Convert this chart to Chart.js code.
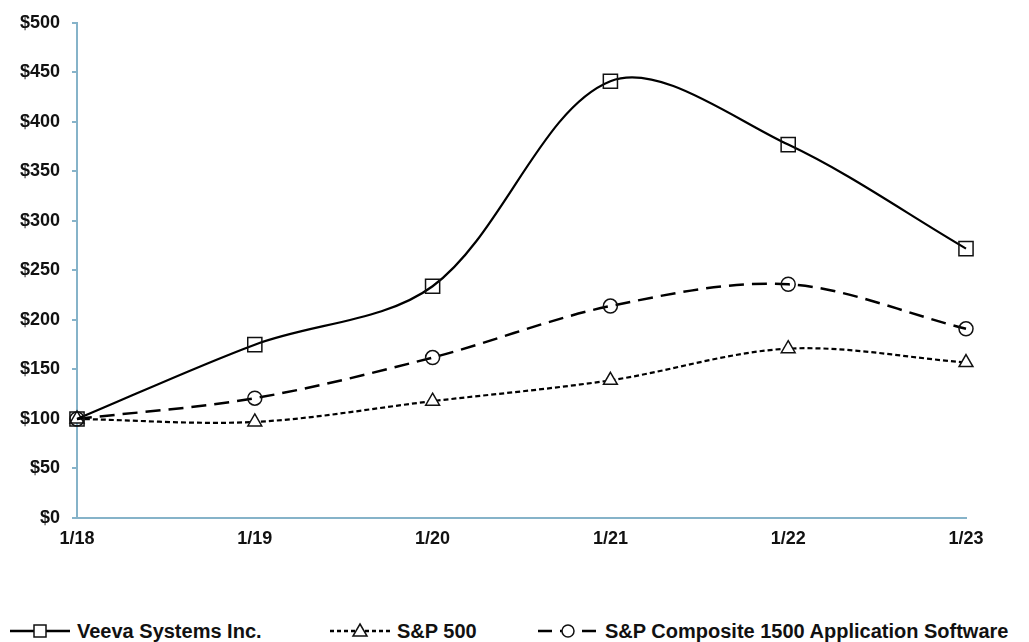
<!DOCTYPE html>
<html>
<head>
<meta charset="utf-8">
<script src="https://cdn.jsdelivr.net/npm/chart.js@4"></script>
<style>
  body { margin: 0; background: #fff; font-family: "Liberation Sans", Arial, sans-serif; }
  #wrap { position: relative; width: 1029px; height: 642px; }
  #chart { position: absolute; left: 0; top: 0; }
  .legend-item { position: absolute; top: 618px; display: flex; align-items: center; font-weight: bold; font-size: 20px; color: #111; white-space: nowrap; }
  .legend-item svg { margin-right: 7px; }
</style>
</head>
<body>
<div id="wrap">
  <canvas id="chart" width="1029" height="560"></canvas>
  <div id="legend"></div>
</div>
<script>
// Data
const periods = ['1/18', '1/19', '1/20', '1/21', '1/22', '1/23'];
const veeva = [100, 175, 234, 441, 377, 272];
const sp500 = [100, 97, 118, 139, 171, 157];
const appSoftware = [100, 121, 162, 214, 236, 191];
const seriesNames = ['Veeva Systems Inc.', 'S&P 500', 'S&P Composite 1500 Application Software'];

const axisColor = '#86b3c9';
const tickFont = { family: '"Liberation Sans", Arial, sans-serif', size: 18, weight: 'bold' };

var ctx = document.getElementById('chart').getContext('2d');
var chart = new Chart(ctx, {
    type: 'line',
    data: {
        labels: periods,
        datasets: [{
            label: seriesNames[0],
            data: veeva,
            borderColor: '#000',
            borderWidth: 2.2,
            pointStyle: 'rect',
            pointRadius: 10,
            pointBorderWidth: 1.5,
            pointBackgroundColor: 'rgba(255,255,255,0)',
            pointBorderColor: '#111',
            tension: 0.33,
            order: 1
        }, {
            label: seriesNames[1],
            data: sp500,
            borderColor: '#000',
            borderWidth: 2.2,
            borderDash: [5, 3],
            pointStyle: 'triangle',
            pointRadius: 8,
            pointBorderWidth: 1.5,
            pointBackgroundColor: '#fff',
            pointBorderColor: '#111',
            tension: 0.33,
            order: 3
        }, {
            label: seriesNames[2],
            data: appSoftware,
            borderColor: '#000',
            borderWidth: 2.5,
            borderDash: [15, 8],
            pointStyle: 'circle',
            pointRadius: 7,
            pointBorderWidth: 1.5,
            pointBackgroundColor: 'rgba(255,255,255,0)',
            pointBorderColor: '#111',
            tension: 0.33,
            order: 2
        }]
    },
    options: {
        responsive: false,
        animation: false,
        layout: { padding: { left: 0, top: 22, right: 63, bottom: 0 } },
        plugins: {
            legend: { display: false },
            tooltip: { enabled: false }
        },
        scales: {
            x: {
                grid: { display: false, drawTicks: false },
                border: { color: axisColor, width: 2 },
                ticks: { color: '#111', font: tickFont, padding: 10, maxRotation: 0, autoSkip: false },
                afterFit: function(scale) { scale.height = 42; }
            },
            y: {
                min: 0,
                max: 500,
                grid: { drawOnChartArea: false, tickLength: 5, color: axisColor, lineWidth: 2 },
                border: { color: axisColor, width: 2 },
                ticks: {
                    stepSize: 50,
                    color: '#111',
                    font: tickFont,
                    padding: 12,
                    callback: function(value) { return '$' + value; }
                },
                afterFit: function(scale) { scale.width = 77; }
            }
        }
    }
});

// Legend built as HTML so it keeps real text
const legendSamples = [
    { left: 10, dash: '', marker: 'rect' },
    { left: 330, dash: '4,3', marker: 'triangle' },
    { left: 538, dash: '14,8', marker: 'circle' }
];

function markerSvg(kind) {
    if (kind === 'rect') return '<rect x="24" y="7" width="12" height="12" fill="#fff" stroke="#111" stroke-width="1.5"/>';
    if (kind === 'triangle') return '<polygon points="30,6 37,18 23,18" fill="#fff" stroke="#111" stroke-width="1.5"/>';
    return '<circle cx="30" cy="13" r="6" fill="#fff" stroke="#111" stroke-width="1.5"/>';
}

var legendEl = document.getElementById('legend');
legendSamples.forEach(function(s, i) {
    var item = document.createElement('div');
    item.className = 'legend-item';
    item.style.left = s.left + 'px';
    var dashAttr = s.dash ? ' stroke-dasharray="' + s.dash + '"' : '';
    item.innerHTML = '<svg width="60" height="26"><line x1="0" y1="13" x2="60" y2="13" stroke="#000" stroke-width="2.5"' + dashAttr + '/>' +
        markerSvg(s.marker) + '</svg><span></span>';
    item.querySelector('span').textContent = seriesNames[i];
    legendEl.appendChild(item);
});
</script>
</body>
</html>
